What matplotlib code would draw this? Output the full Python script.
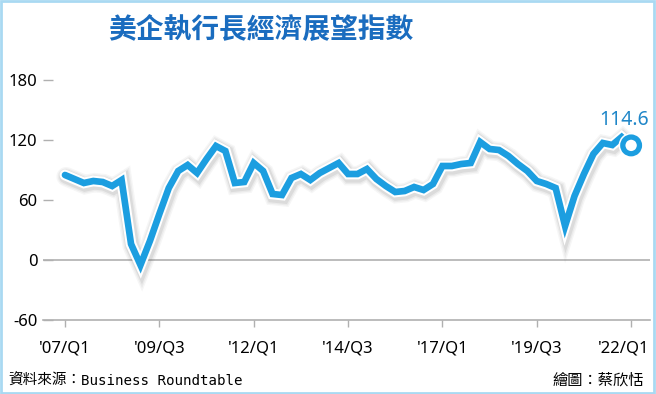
import matplotlib
matplotlib.use("Agg")
import matplotlib.pyplot as plt
import matplotlib.patheffects as pe
import matplotlib.transforms as mtransforms
from matplotlib.patches import Rectangle

# CEO Economic Outlook Index, quarterly 2007Q1 .. 2022Q1
years = list(range(2007, 2023))
quarters = [f"{y}Q{q}" for y in years for q in range(1, 5)][:61]
index_values = [
    85, 81, 77, 79, 78, 74, 80, 16,       # 2007Q1 - 2008Q4
    -5, 19, 46, 72, 89, 95, 87, 101,      # 2009 - 2010
    114, 109, 77, 78, 97, 89, 66, 65,     # 2011 - 2012
    82, 86, 80, 87, 92, 97, 86, 86,       # 2013 - 2014
    91, 81, 74, 68, 69, 73, 70, 76,       # 2015 - 2016
    94, 94, 96, 97, 118, 111, 110, 104,   # 2017 - 2018
    96, 89, 79, 76, 72, 34, 64, 86,       # 2019 - 2020
    106, 117, 115, 123, 114.6,            # 2021 - 2022Q1
]
tick_quarters = ["2007Q1", "2009Q3", "2012Q1", "2014Q3", "2017Q1", "2019Q3", "2022Q1"]
tick_labels = ["'07/Q1", "'09/Q3", "'12/Q1", "'14/Q3", "'17/Q1", "'19/Q3", "'22/Q1"]
y_ticks = [-60, 0, 60, 120, 180]

LINE = "#1c9ee0"
TITLE = "#1a6cbf"
GRAY = "#b0b0b0"

plt.rcParams["font.family"] = ["Noto Sans", "DejaVu Sans"]

fig = plt.figure(figsize=(6.56, 3.94), dpi=100)
W, H = 656, 394
ax = fig.add_axes([43 / W, 1 - 320 / H, (650 - 43) / W, (320 - 70) / H])

# soft blurred shadow: a few wide, faint strokes
shadow = [pe.SimpleLineShadow(offset=(0.8, -1.2), shadow_color="#6a6a6a",
                              alpha=a, linewidth=w)
          for w, a in [(14, 0.06), (12, 0.08), (10, 0.12)]]
x = list(range(len(index_values)))
ax.plot(x, index_values, color=LINE, lw=4.8, solid_joinstyle="miter",
        solid_capstyle="round", zorder=3,
        path_effects=shadow + [pe.Stroke(linewidth=7.7, foreground="white"),
                               pe.Normal()])
ax.plot(x[-1], index_values[-1], "o", ms=12, mfc="white", mec=LINE, mew=3.8, zorder=4,
        path_effects=[pe.Stroke(linewidth=6, foreground="white"), pe.Normal()])
ax.annotate(f"{index_values[-1]:.1f}", (x[-1], index_values[-1]),
            xytext=(13, 11), textcoords="offset points", ha="right", va="bottom",
            color="#1f86c8", fontsize=14)

ax.axhline(0, color=GRAY, lw=1.2, zorder=1)
ax.set_xlim(-2.33, 62.0)
ax.set_ylim(-60, 190)
ax.set_yticks(y_ticks)
ax.set_yticklabels([str(v) for v in y_ticks])
ax.set_xticks([quarters.index(q) for q in tick_quarters])
ax.set_xticklabels(tick_labels)

for s in ["top", "right", "left"]:
    ax.spines[s].set_visible(False)
ax.spines["bottom"].set_color(GRAY)
ax.spines["bottom"].set_linewidth(1.2)
ax.tick_params(axis="y", direction="in", length=7, width=1, color=GRAY,
               labelsize=12, pad=4)
ax.tick_params(axis="x", direction="out", length=5, width=1, color=GRAY,
               labelsize=12, pad=10)
# last label sits a bit left of its tick so it stays inside the frame
last = ax.get_xticklabels()[-1]
last.set_transform(last.get_transform() +
                   mtransforms.ScaledTranslation(-7 / 100, 0, fig.dpi_scale_trans))

fig.text(261 / W, 1 - 30 / H, "美企執行長經濟展望指數", ha="center", va="center",
         fontsize=20, fontweight="bold", color=TITLE, family=["Noto Sans CJK TC"])

src = fig.text(8 / W, 1 - 381 / H, "資料來源：", ha="left", va="center",
               fontsize=10.5, family=["Noto Sans CJK TC"])
ax.annotate("Business Roundtable", xy=(1, 0.5), xycoords=src, ha="left", va="center",
            fontsize=10.2, family=["DejaVu Sans Mono"], annotation_clip=False)
fig.text(644 / W, 1 - 380 / H, "繪圖：蔡欣恬", ha="right", va="center",
         fontsize=11, family=["Noto Sans CJK TC"])

fig.patches.append(Rectangle((0.002, 0.003), 0.995, 0.994, transform=fig.transFigure,
                             fill=False, edgecolor="#a9d9f2", lw=2))

fig.savefig("out.png", dpi=100)
